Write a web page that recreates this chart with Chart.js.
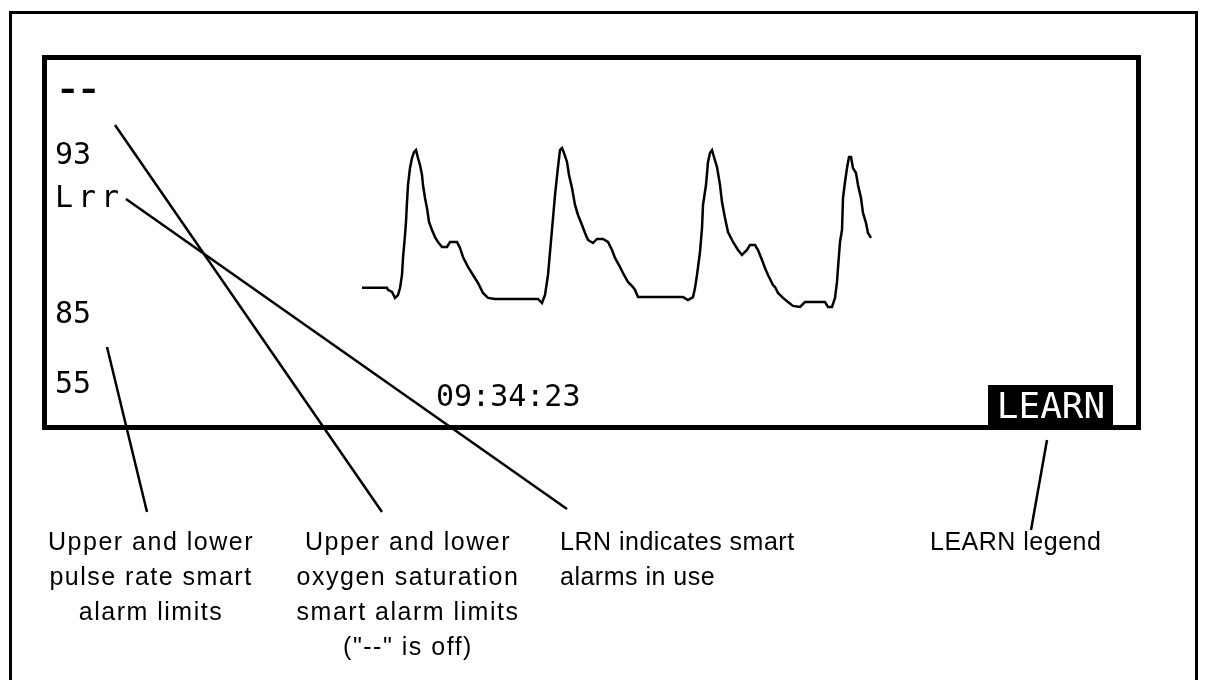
<!DOCTYPE html>
<html>
<head>
<meta charset="utf-8">
<script src="https://cdn.jsdelivr.net/npm/chart.js@4"></script>
<style>
  html, body { margin: 0; padding: 0; background: #fff; }
  canvas { display: block; }
</style>
</head>
<body>
<canvas id="screen" width="1205" height="680"></canvas>
<script>
// --- pleth trace (sample index, amplitude 0-100) ---
const sampleTimes = [
  2, 27, 28, 32, 35, 38, 40, 42, 43, 45, 46, 47, 48, 50, 52, 54, 56, 58, 60, 62, 63, 65, 67, 69, 72, 75, 78, 82, 87, 90, 97, 100, 103, 108, 113, 118, 123, 128,
  135, 178, 182, 185, 188, 190, 193, 195, 198, 200, 202, 204, 207, 209, 212, 215, 218, 222, 225, 228, 233, 237, 243, 248, 252, 255, 260, 264, 268, 273, 275,
  278, 323, 328, 333, 335, 337, 340, 342, 343, 346, 348, 350, 352, 354, 357, 360, 362, 365, 368, 373, 378, 382, 387, 390, 395, 398, 402, 405, 408, 413, 415,
  418, 423, 428, 433, 440, 445, 465, 468, 472,
  475, 477, 478, 480, 482, 483, 485, 487, 489, 491, 493, 496, 498, 501, 503, 506, 508, 511
];
const plethAmplitude = [
  13.1, 13.1, 11.8, 10.6, 7.1, 8.8, 12.9, 20.6, 30.6, 44.1, 51.8, 63.5, 73.5, 83.5, 89.4, 92.9, 94.1, 89.4, 85.3, 79.4, 73.5, 65.9, 60.0, 51.8, 47.1, 42.9, 40.0, 37.1, 37.1, 40.0, 40.0, 36.5, 31.2, 25.3, 20.6, 15.9, 10.0, 7.1,
  6.5, 6.5, 4.1, 8.8, 20.6, 34.1, 54.1, 67.6, 84.1, 94.1, 95.3, 92.4, 87.1, 79.4, 71.8, 61.8, 55.9, 50.0, 45.3, 41.2, 39.4, 41.8, 41.8, 40.0, 35.3, 30.6, 25.3, 20.6, 16.5, 13.5, 11.8,
  7.6, 7.6, 5.9, 7.6, 12.9, 20.6, 34.1, 48.2, 61.8, 73.5, 87.1, 92.4, 94.1, 90.0, 84.1, 73.5, 63.5, 54.1, 45.9, 40.0, 35.3, 32.4, 35.3, 38.2, 38.2, 35.3, 29.4, 24.7, 20.6, 14.7, 13.5,
  10.0, 7.1, 4.7, 2.4, 1.8, 4.7, 4.7, 1.8, 1.8,
  7.1, 16.5, 24.7, 40.0, 47.1, 65.9, 75.3, 83.5, 90.0, 90.0, 83.5, 80.6, 73.5, 65.9, 57.1, 51.2, 45.3, 42.4
];

// --- screen readouts ---
const limitLabels = ['--', '93', 'Lrr', '85', '55'];
const clockLabel = '09:34:23';
const modeLabel = 'LEARN';

// --- callout captions ---
const captionPulse = ['Upper and lower', 'pulse rate smart', 'alarm limits'];
const captionSpo2 = ['Upper and lower', 'oxygen saturation', 'smart alarm limits', '("--" is off)'];
const captionLrn = ['LRN indicates smart', 'alarms in use'];
const captionLearn = ['LEARN legend'];

// --- layout (pixels) ---
const screenBox = { left: 44.5, top: 57.5, right: 1138.5, bottom: 427.5 };
const limitBaselines = [100, 164, 207, 323, 393];
const leaders = [
  [107, 347, 147, 512],
  [115, 125, 382, 512],
  [126, 199, 567, 509],
  [1047, 440, 1031, 530]
];
const captionFont = '25px "Liberation Sans", Arial, sans-serif';
const lcdFont = '30px "DejaVu Sans Mono", monospace';

function drawLines(ctx, x, lines, align, y0, spacing) {
  ctx.textAlign = align;
  lines.forEach((t, i) => ctx.fillText(t, x, y0 + i * spacing));
}

const diagramPlugin = {
  id: 'diagram',
  beforeDraw(chart) {
    const ctx = chart.ctx;
    ctx.save();
    ctx.fillStyle = '#fff';
    ctx.fillRect(0, 0, chart.width, chart.height);
    ctx.restore();
  },
  afterDraw(chart) {
    const ctx = chart.ctx;
    ctx.save();
    ctx.strokeStyle = '#000';
    ctx.fillStyle = '#000';

    // outer frame (bottom edge is cut off)
    ctx.lineWidth = 3;
    ctx.beginPath();
    ctx.moveTo(10.5, 690);
    ctx.lineTo(10.5, 12.5);
    ctx.lineTo(1196.5, 12.5);
    ctx.lineTo(1196.5, 690);
    ctx.stroke();

    // monitor screen
    ctx.lineWidth = 5;
    ctx.strokeRect(screenBox.left, screenBox.top, screenBox.right - screenBox.left, screenBox.bottom - screenBox.top);

    // limits column
    ctx.textAlign = 'left';
    ctx.textBaseline = 'alphabetic';
    limitLabels.forEach((t, i) => {
      if (t === '--') {
        // the "off" dashes are wider and heavier on the screen
        ctx.save();
        ctx.font = 'bold ' + lcdFont;
        ctx.translate(56, limitBaselines[i]);
        ctx.scale(1.3, 1);
        ctx.letterSpacing = '-2px';
        ctx.fillText(t, 0, 0);
        ctx.restore();
        return;
      }
      ctx.font = lcdFont;
      ctx.letterSpacing = t === 'Lrr' ? '5px' : '0px';
      ctx.fillText(t, 55, limitBaselines[i]);
    });
    ctx.letterSpacing = '0px';

    // clock
    ctx.font = lcdFont;
    ctx.fillText(clockLabel, 436, 406);

    // LEARN legend block
    ctx.fillRect(988, 385, 125, 40);
    ctx.fillStyle = '#fff';
    ctx.font = '36px "DejaVu Sans Mono", monospace';
    ctx.textAlign = 'center';
    ctx.fillText(modeLabel, 1051, 418);
    ctx.fillStyle = '#000';

    // leader lines
    ctx.lineWidth = 2.5;
    leaders.forEach(([x1, y1, x2, y2]) => {
      ctx.beginPath();
      ctx.moveTo(x1, y1);
      ctx.lineTo(x2, y2);
      ctx.stroke();
    });

    // captions
    ctx.font = captionFont;
    ctx.letterSpacing = '1.5px';
    drawLines(ctx, 151, captionPulse, 'center', 550, 35);
    drawLines(ctx, 408, captionSpo2, 'center', 550, 35);
    ctx.letterSpacing = '0.5px';
    drawLines(ctx, 560, captionLrn, 'left', 550, 35);
    drawLines(ctx, 930, captionLearn, 'left', 550, 35);
    ctx.restore();
  }
};

const points = sampleTimes.map((t, i) => ({ x: t, y: plethAmplitude[i] }));

new Chart(document.getElementById('screen'), {
  type: 'line',
  data: {
    datasets: [{
      label: 'Pleth',
      data: points,
      borderColor: '#000',
      borderWidth: 2.5,
      pointRadius: 0,
      tension: 0,
      fill: false
    }]
  },
  options: {
    responsive: false,
    animation: false,
    layout: { padding: { left: 360, right: 325, top: 140, bottom: 370 } },
    plugins: { legend: { display: false }, tooltip: { enabled: false } },
    scales: {
      x: { type: 'linear', min: 0, max: 520, display: false },
      y: { min: 0, max: 100, display: false }
    }
  },
  plugins: [diagramPlugin]
});
</script>
</body>
</html>
